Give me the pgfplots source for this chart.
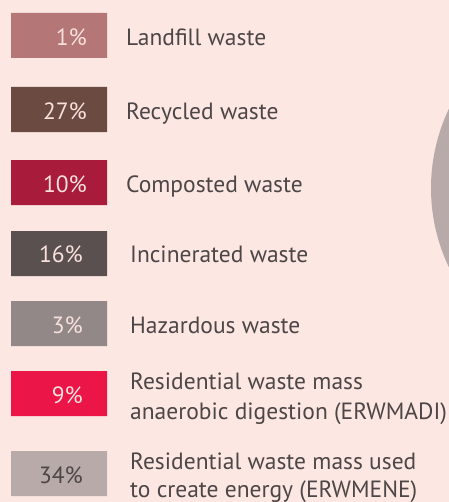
\documentclass[border=0pt]{standalone}
\usepackage{fontspec}
\setmainfont{PT Sans}
\usepackage{pgfplots}
\pgfplotsset{compat=1.18}
\definecolor{bg}{HTML}{FCE7E3}
\definecolor{txt}{HTML}{4D4646}
\definecolor{lt}{HTML}{F8E1DC}
\definecolor{cA}{HTML}{B47676}
\definecolor{cB}{HTML}{6B4A42}
\definecolor{cC}{HTML}{A81B3B}
\definecolor{cD}{HTML}{5A5050}
\definecolor{cE}{HTML}{928887}
\definecolor{cF}{HTML}{EC1548}
\definecolor{cG}{HTML}{B7AAA8}
\begin{document}
\begin{tikzpicture}
\begin{axis}[width=449bp,height=502bp,scale only axis,
  xmin=0,xmax=449,ymin=0,ymax=502,y dir=reverse,hide axis,clip=true]
\fill[bg] (axis cs:0,0) rectangle (axis cs:449,502);
\coordinate (SW) at (axis cs:0,502);
\coordinate (NE) at (axis cs:449,0);
% pie (values 1,27,10,16,3,9,34 %), clockwise from top
\fill[cA] (axis cs:615,188) -- +(90:184bp) arc[start angle=90,end angle=86.4,radius=184bp] -- cycle;
\fill[cB] (axis cs:615,188) -- +(86.4:184bp) arc[start angle=86.4,end angle=-10.8,radius=184bp] -- cycle;
\fill[cC] (axis cs:615,188) -- +(-10.8:184bp) arc[start angle=-10.8,end angle=-46.8,radius=184bp] -- cycle;
\fill[cD] (axis cs:615,188) -- +(-46.8:184bp) arc[start angle=-46.8,end angle=-104.4,radius=184bp] -- cycle;
\fill[cE] (axis cs:615,188) -- +(-104.4:184bp) arc[start angle=-104.4,end angle=-115.2,radius=184bp] -- cycle;
\fill[cF] (axis cs:615,188) -- +(-115.2:184bp) arc[start angle=-115.2,end angle=-147.6,radius=184bp] -- cycle;
\fill[cG] (axis cs:615,188) -- +(-147.6:184bp) arc[start angle=-147.6,end angle=-270,radius=184bp] -- cycle;
% legend boxes
\addplot[fill=cA,draw=none] coordinates {(11,13)(107,13)(107,58)(11,58)(11,13)};
\addplot[fill=cB,draw=none] coordinates {(11,87)(107,87)(107,132)(11,132)(11,87)};
\addplot[fill=cC,draw=none] coordinates {(11,160)(107,160)(107,205)(11,205)(11,160)};
\addplot[fill=cD,draw=none] coordinates {(11,231)(107,231)(107,276)(11,276)(11,231)};
\addplot[fill=cE,draw=none] coordinates {(11,301)(107,301)(107,346)(11,346)(11,301)};
\addplot[fill=cF,draw=none] coordinates {(11,371)(107,371)(107,416)(11,416)(11,371)};
\addplot[fill=cG,draw=none] coordinates {(11,451)(107,451)(107,496)(11,496)(11,451)};
\begin{scope}[every node/.style={inner sep=0pt,font=\fontsize{23.5bp}{29bp}\selectfont}]
\node[anchor=base east,text=lt] at (axis cs:87,45.5) {1\%};
\node[anchor=base east,text=lt] at (axis cs:87,119) {27\%};
\node[anchor=base east,text=lt] at (axis cs:87,192.5) {10\%};
\node[anchor=base east,text=lt] at (axis cs:83,262) {16\%};
\node[anchor=base east,text=lt] at (axis cs:83,333) {3\%};
\node[anchor=base east,text=lt] at (axis cs:83,403) {9\%};
\node[anchor=base east,text=txt] at (axis cs:83,483) {34\%};
\node[anchor=base west,text=txt] at (axis cs:126,45.5) {Landfill waste};
\node[anchor=base west,text=txt] at (axis cs:126,119) {Recycled waste};
\node[anchor=base west,text=txt] at (axis cs:126,192.5) {Composted waste};
\node[anchor=base west,text=txt] at (axis cs:130,262) {Incinerated waste};
\node[anchor=base west,text=txt] at (axis cs:130,333) {Hazardous waste};
\node[anchor=base west,text=txt] at (axis cs:130,389) {Residential waste mass};
\node[anchor=base west,text=txt] at (axis cs:130,419) {anaerobic digestion (ERWMADI)};
\node[anchor=base west,text=txt] at (axis cs:130,469) {Residential waste mass used};
\node[anchor=base west,text=txt] at (axis cs:130,497) {to create energy (ERWMENE)};
\end{scope}
\end{axis}
\pgfresetboundingbox
\path (SW) rectangle (NE);
\end{tikzpicture}
\end{document}
